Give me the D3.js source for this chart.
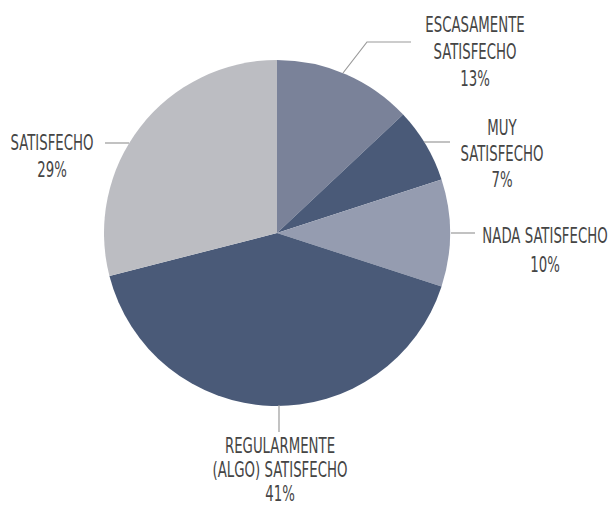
<!DOCTYPE html>
<html><head><meta charset="utf-8">
<script src="https://cdn.jsdelivr.net/npm/d3@7"></script>
<style>body{margin:0;background:#fff}svg{display:block}</style>
</head><body>
<svg id="c" width="612" height="506"></svg>
<script>
const categories = ["ESCASAMENTE SATISFECHO","MUY SATISFECHO","NADA SATISFECHO","REGULARMENTE (ALGO) SATISFECHO","SATISFECHO"];
const values = [13, 7, 10, 41, 29];
const colors = ["#7a8299","#4a5a78","#959cb0","#4a5a78","#bcbdc2"];
const labelLines = [["ESCASAMENTE","SATISFECHO","13%"],["MUY","SATISFECHO","7%"],["NADA SATISFECHO","10%"],["REGULARMENTE","(ALGO) SATISFECHO","41%"],["SATISFECHO","29%"]];

const svg = d3.select("#c");
const cx = 277, cy = 233, r = 173;
const pie = d3.pie().sort(null).value(d => d)(values);
const arc = d3.arc().innerRadius(0).outerRadius(r);
const g = svg.append("g").attr("transform", `translate(${cx},${cy})`);
g.selectAll("path").data(pie).join("path").attr("d", arc).attr("fill", (d,i) => colors[i]);

// leader lines
const leaders = [
  [[343,73],[367,42],[411,42]],
  [[424,142],[450,142]],
  [[451,233],[475,233]],
  [[279,405],[279,432]],
  [[105,143],[129,143]]
];
const line = d3.line();
svg.selectAll(".ld").data(leaders).join("path").attr("class","ld")
  .attr("d", line).attr("fill","none").attr("stroke","#9a9a9a").attr("stroke-width",1.2);

// labels: center x, first baseline, line spacing
const labelPos = [[475,32,27],[502,135,26],[545,243,29],[280,453,24],[52,150,27]];
const font = "'DejaVu Sans Condensed','Liberation Sans Narrow',sans-serif";
const fs = 21;
const probe = svg.append("text").attr("font-family", font).attr("font-size", fs).text("SATISFECHO");
const pw = probe.node().getComputedTextLength();
probe.remove();
const sx = 83 / pw;
labelLines.forEach((lines, i) => {
  const [x, y, dy] = labelPos[i];
  const t = svg.append("g").attr("transform", `translate(${x},${y}) scale(${sx},1)`);
  lines.forEach((s, j) => {
    t.append("text").attr("x", 0).attr("y", j * dy).attr("text-anchor","middle")
      .attr("font-family", font).attr("font-size", fs).attr("fill","#454545")
      .text(s);
  });
});
</script>
</body></html>
